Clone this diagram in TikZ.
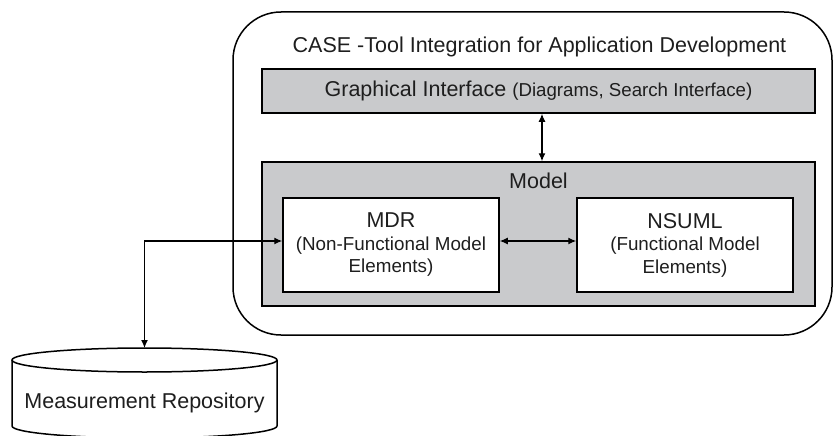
\documentclass[tikz,border=0pt]{standalone}
\usepackage{fontspec}
\setmainfont{Liberation Sans}
\usetikzlibrary{arrows.meta}

\definecolor{boxgray}{RGB}{201,202,204}
\definecolor{inkgray}{RGB}{30,30,30}

\tikzset{
    graybox/.style = {draw, line width=1.5pt, fill=boxgray, inner sep=0pt},
    whitebox/.style = {draw, line width=1.5pt, fill=white, inner sep=0pt, align=center,
        minimum width=216pt, minimum height=94pt, font=\fontsize{18.8}{22.5}\selectfont},
    link/.style = {line width=1.2pt, {Latex[length=8pt,width=7pt]}-{Latex[length=8pt,width=7pt]}},
    big/.style = {font=\fontsize{21.5}{24}\selectfont}
}

\begin{document}
\begin{tikzpicture}[x=1pt, y=-1pt, text=inkgray]
        \clip (0,0) rectangle (833,436);
        \useasboundingbox (0,0) rectangle (833,436);

        % outer frame
        \draw[line width=1.5pt, rounded corners=48pt] (233,12) rectangle (832,335);
        \node[big] (title) at (539.5,47) {CASE -Tool Integration for Application Development};

        \node[graybox, minimum width=553pt, minimum height=44pt] (gi) at (538.5,91)
            {\fontsize{21.5}{24}\selectfont Graphical Interface \fontsize{18.7}{22}\selectfont(Diagrams, Search Interface)};

        \node[graybox, minimum width=553pt, minimum height=144pt] (model) at (538.5,234) {};
        \node[big] (modellabel) at (538.5,181) {Model};

        \node[whitebox] (mdr) at (391,245)
            {{\fontsize{21.5}{23}\selectfont MDR}\\(Non-Functional Model\\Elements)};
        \node[whitebox] (nsuml) at (685,245)
            {{\fontsize{21.5}{23}\selectfont NSUML}\\(Functional Model\\Elements)};

        % repository
        \coordinate (repotop) at (144.5,348);
        \draw[line width=1.5pt, fill=white] (12,360) -- (12,426) arc[start angle=180, end angle=360, x radius=132.5pt, y radius=12pt]
            -- (277,360);
        \draw[line width=1.5pt, fill=white] (144.5,360) ellipse[x radius=132.5pt, y radius=12pt];
        \node[big] (repo) at (144.5,403) {Measurement Repository};

        \draw[link] ([xshift=3.5pt]gi.south) -- ([xshift=3.5pt]model.north);
        \draw[link] ([yshift=4pt]mdr.east) -- ([yshift=4pt]nsuml.west);
        \draw[link] (repotop) |- ([yshift=4pt]mdr.west);

    \end{tikzpicture}
\end{document}
